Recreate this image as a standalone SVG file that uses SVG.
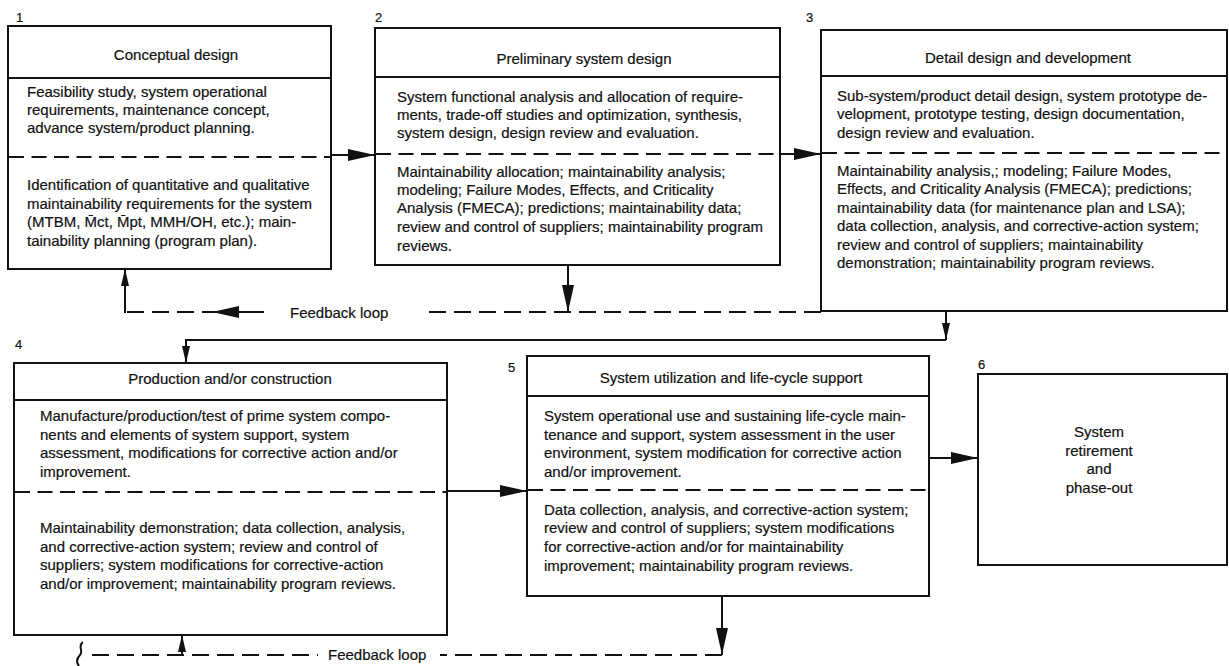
<svg xmlns="http://www.w3.org/2000/svg" width="1229" height="666" viewBox="0 0 1229 666">
  <style>
    text { font-family: "Liberation Sans", Arial, sans-serif; fill: #111; stroke: #111; stroke-width: 0.2; }
    .t { font-size: 15px; }
    .c { font-size: 15px; text-anchor: middle; }
    .num { font-size: 13px; }
    .box { fill: #fff; stroke: #111; stroke-width: 2; }
    .sep { stroke: #111; stroke-width: 2; fill: none; }
    .dash { stroke: #111; stroke-width: 2; fill: none; stroke-dasharray: 15 7.5; }
    .wire { stroke: #111; stroke-width: 2; fill: none; }
    .fb { stroke: #111; stroke-width: 2; fill: none; stroke-dasharray: 17 8; }
  </style>
  <defs>
    <marker id="arrow-lg" markerUnits="userSpaceOnUse" markerWidth="28" markerHeight="14" viewBox="0 0 28 14" refX="27" refY="7" orient="auto">
      <path d="M0 1 L27 7 L0 13 Z" fill="#111"/>
    </marker>
    <marker id="arrow-sm" markerUnits="userSpaceOnUse" markerWidth="18" markerHeight="10" viewBox="0 0 18 10" refX="17" refY="5" orient="auto">
      <path d="M0 1 L17 5 L0 9 Z" fill="#111"/>
    </marker>
  </defs>

  <rect width="1229" height="666" fill="#fff"/>

  <!-- connectors -->
  <g id="connectors">
    <!-- 1 to 2 -->
    <path class="wire" d="M331 155 H375" marker-end="url(#arrow-lg)"/>
    <!-- 2 to 3 -->
    <path class="wire" d="M780 154 H821" marker-end="url(#arrow-lg)"/>
    <!-- 3 to 4 -->
    <path class="wire" d="M946 311 V340" marker-end="url(#arrow-sm)"/>
    <path class="wire" d="M946 340 H186 V363" marker-end="url(#arrow-sm)"/>
    <!-- 4 to 5 -->
    <path class="wire" d="M447 491 H527" marker-end="url(#arrow-lg)"/>
    <!-- 5 to 6 -->
    <path class="wire" d="M929 458 H978" marker-end="url(#arrow-lg)"/>

    <!-- upper feedback loop -->
    <path class="wire" d="M568 265 V312" marker-end="url(#arrow-lg)"/>
    <path class="fb" d="M821 312 H428"/>
    <path class="wire" d="M264 312 H212" marker-end="url(#arrow-lg)"/>
    <path class="fb" d="M125 312 H232" stroke-dashoffset="-2"/>
    <path class="wire" d="M125 313 V269" marker-end="url(#arrow-sm)"/>
    <text class="t" x="290" y="318">Feedback loop</text>

    <!-- lower feedback loop -->
    <path class="wire" d="M722 596 V655" marker-end="url(#arrow-lg)"/>
    <path class="fb" d="M722 655 H440"/>
    <path class="fb" d="M92 655 H318"/>
    <path class="wire" d="M182 656 V635" marker-end="url(#arrow-sm)"/>
    <path class="wire" stroke-width="1.5" d="M83 642 C77 646 84 651 80 655 C77 658 76 662 79 666"/>
    <text class="t" x="328" y="660">Feedback loop</text>
  </g>

  <!-- 1: conceptual design -->
  <g id="node-1">
    <text class="num" x="16" y="22">1</text>
    <rect class="box" x="8" y="26" width="323" height="243"/>
    <line class="sep" x1="8" y1="78" x2="331" y2="78"/>
    <line class="dash" x1="9" y1="157" x2="330" y2="157"/>
    <text class="c" x="176" y="60">Conceptual design</text>
    <text class="t" x="27" y="97">Feasibility study, system operational</text>
    <text class="t" x="27" y="115">requirements, maintenance concept,</text>
    <text class="t" x="27" y="133">advance system/product planning.</text>
    <text class="t" x="27" y="190">Identification of quantitative and qualitative</text>
    <text class="t" x="27" y="209">maintainability requirements for the system</text>
    <text class="t" x="27" y="227">(MTBM, M̄ct, M̄pt, MMH/OH, etc.); main-</text>
    <text class="t" x="27" y="246">tainability planning (program plan).</text>
  </g>

  <!-- 2: preliminary system design -->
  <g id="node-2">
    <text class="num" x="375" y="22">2</text>
    <rect class="box" x="375" y="28" width="405" height="237"/>
    <line class="sep" x1="375" y1="77" x2="780" y2="77"/>
    <line class="dash" x1="376" y1="154" x2="779" y2="154"/>
    <text class="c" x="584" y="64">Preliminary system design</text>
    <text class="t" x="397" y="102">System functional analysis and allocation of require-</text>
    <text class="t" x="397" y="120">ments, trade-off studies and optimization, synthesis,</text>
    <text class="t" x="397" y="138">system design, design review and evaluation.</text>
    <text class="t" x="397" y="177">Maintainability allocation; maintainability analysis;</text>
    <text class="t" x="397" y="195">modeling; Failure Modes, Effects, and Criticality</text>
    <text class="t" x="397" y="213">Analysis (FMECA); predictions; maintainability data;</text>
    <text class="t" x="397" y="232">review and control of suppliers; maintainability program</text>
    <text class="t" x="397" y="251">reviews.</text>
  </g>

  <!-- 3: detail design and development -->
  <g id="node-3">
    <text class="num" x="806" y="22">3</text>
    <rect class="box" x="821" y="30" width="406" height="281"/>
    <line class="sep" x1="821" y1="76" x2="1227" y2="76"/>
    <line class="dash" x1="822" y1="153" x2="1226" y2="153"/>
    <text class="c" x="1028" y="63">Detail design and development</text>
    <text class="t" x="837" y="101">Sub-system/product detail design, system prototype de-</text>
    <text class="t" x="837" y="119">velopment, prototype testing, design documentation,</text>
    <text class="t" x="837" y="138">design review and evaluation.</text>
    <text class="t" x="837" y="176">Maintainability analysis,; modeling; Failure Modes,</text>
    <text class="t" x="837" y="194">Effects, and Criticality Analysis (FMECA); predictions;</text>
    <text class="t" x="837" y="213">maintainability data (for maintenance plan and LSA);</text>
    <text class="t" x="837" y="231">data collection, analysis, and corrective-action system;</text>
    <text class="t" x="837" y="250">review and control of suppliers; maintainability</text>
    <text class="t" x="837" y="268">demonstration; maintainability program reviews.</text>
  </g>

  <!-- 4: production and/or construction -->
  <g id="node-4">
    <text class="num" x="15" y="349">4</text>
    <rect class="box" x="14" y="363" width="433" height="272"/>
    <line class="sep" x1="14" y1="400" x2="447" y2="400"/>
    <line class="dash" x1="15" y1="492" x2="446" y2="492"/>
    <text class="c" x="230" y="384">Production and/or construction</text>
    <text class="t" x="40" y="421">Manufacture/production/test of prime system compo-</text>
    <text class="t" x="40" y="440">nents and elements of system support, system</text>
    <text class="t" x="40" y="458">assessment, modifications for corrective action and/or</text>
    <text class="t" x="40" y="477">improvement.</text>
    <text class="t" x="40" y="533">Maintainability demonstration; data collection, analysis,</text>
    <text class="t" x="40" y="552">and corrective-action system; review and control of</text>
    <text class="t" x="40" y="570">suppliers; system modifications for corrective-action</text>
    <text class="t" x="40" y="589">and/or improvement; maintainability program reviews.</text>
  </g>

  <!-- 5: system utilization and life-cycle support -->
  <g id="node-5">
    <text class="num" x="508" y="372">5</text>
    <rect class="box" x="527" y="356" width="402" height="240"/>
    <line class="sep" x1="527" y1="396" x2="929" y2="396"/>
    <line class="dash" x1="528" y1="490" x2="928" y2="490"/>
    <text class="c" x="731" y="383">System utilization and life-cycle support</text>
    <text class="t" x="544" y="421">System operational use and sustaining life-cycle main-</text>
    <text class="t" x="544" y="440">tenance and support, system assessment in the user</text>
    <text class="t" x="544" y="458">environment, system modification for corrective action</text>
    <text class="t" x="544" y="477">and/or improvement.</text>
    <text class="t" x="544" y="515">Data collection, analysis, and corrective-action system;</text>
    <text class="t" x="544" y="533">review and control of suppliers; system modifications</text>
    <text class="t" x="544" y="552">for corrective-action and/or for maintainability</text>
    <text class="t" x="544" y="571">improvement; maintainability program reviews.</text>
  </g>

  <!-- 6: retirement -->
  <g id="node-6">
    <text class="num" x="978" y="369">6</text>
    <rect class="box" x="978" y="374" width="249" height="191"/>
    <text class="c" x="1099" y="437">System</text>
    <text class="c" x="1099" y="456">retirement</text>
    <text class="c" x="1099" y="474">and</text>
    <text class="c" x="1099" y="493">phase-out</text>
  </g>
</svg>
